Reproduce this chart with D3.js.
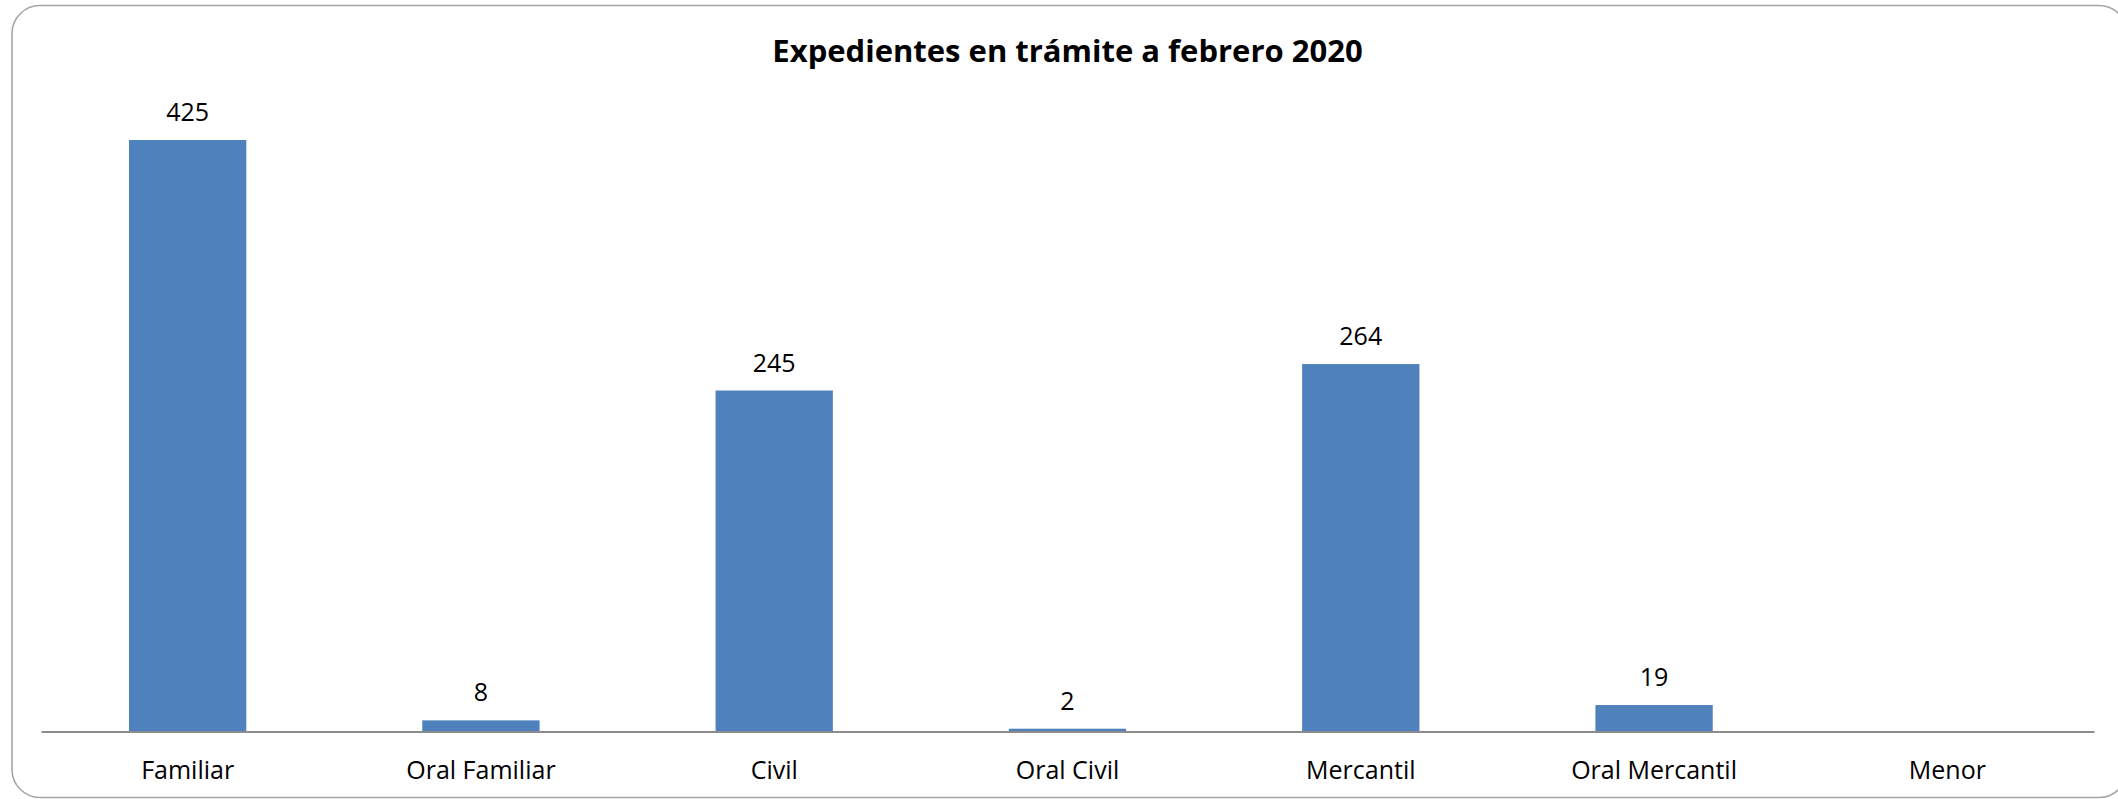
<!DOCTYPE html>
<html>
<head>
<meta charset="utf-8">
<script src="https://cdn.jsdelivr.net/npm/d3@7"></script>
<style>
  html, body { margin: 0; padding: 0; background: #ffffff; overflow: hidden; width: 2118px; height: 799px; }
  svg { display: block; position: absolute; left: 0; top: 0; }
</style>
</head>
<body>
<svg id="chart" width="2118" height="799"></svg>
<script>
const title = "Expedientes en trámite a febrero 2020";
const categories = ["Familiar", "Oral Familiar", "Civil", "Oral Civil", "Mercantil", "Oral Mercantil", "Menor"];
const values = [425, 8, 245, 2, 264, 19, null];
const yDomain = [0, 450];

const W = 2118, H = 799;
const svg = d3.select("#chart");
const font = "'Open Sans', 'Noto Sans', sans-serif";

// outer chart frame (its right side runs past the picture's edge)
const fx0 = 12, fy0 = 5.5, fx1 = 2127, fy1 = 797.5, r = 28;
const fp = [
  `M${fx1 - r},${fy0}`,
  `H${fx0 + r}`,
  `A${r},${r} 0 0 0 ${fx0},${fy0 + r}`,
  `V${fy1 - r}`,
  `A${r},${r} 0 0 0 ${fx0 + r},${fy1}`,
  `H${fx1 - r}`,
  `A${r},${r} 0 0 0 ${fx1},${fy1 - r}`,
  `V${fy0 + r}`,
  `A${r},${r} 0 0 0 ${fx1 - r},${fy0}`,
  "Z"
].join(" ");
svg.append("path")
  .attr("d", fp)
  .attr("fill", "#ffffff")
  .attr("stroke", "#a6a6a6")
  .attr("stroke-width", 1.6);

const plot = { left: 41, right: 2094, bottom: 731.5, top: 105.2 };

const x = d3.scaleBand()
  .domain(categories)
  .range([plot.left, plot.right])
  .paddingInner(0.6)
  .paddingOuter(0.3);

const y = d3.scaleLinear()
  .domain(yDomain)
  .range([plot.bottom, plot.top]);

const data = categories.map((c, i) => ({ cat: c, val: values[i] }));
const withVal = data.filter(d => d.val !== null && d.val !== undefined);

// bars
svg.append("g").selectAll("rect")
  .data(withVal)
  .join("rect")
  .attr("x", d => x(d.cat))
  .attr("y", d => y(d.val))
  .attr("width", x.bandwidth())
  .attr("height", d => y(0) - y(d.val))
  .attr("fill", "#4f81bd");

// category axis
const xAxis = d3.axisBottom(x).tickSize(0).tickPadding(0);
const gx = svg.append("g")
  .attr("transform", `translate(0,${plot.bottom})`)
  .call(xAxis);
gx.select(".domain")
  .attr("stroke", "#8c8c8c")
  .attr("stroke-width", 2);
gx.selectAll(".tick text")
  .attr("y", 47.5)
  .attr("dy", null)
  .attr("font-family", font)
  .attr("font-size", 25)
  .attr("fill", "#000000");

// value labels
svg.append("g").selectAll("text")
  .data(withVal)
  .join("text")
  .attr("x", d => x(d.cat) + x.bandwidth() / 2)
  .attr("y", d => y(d.val) - 19)
  .attr("text-anchor", "middle")
  .attr("font-family", font)
  .attr("font-size", 25)
  .attr("fill", "#000000")
  .text(d => d.val);

// title
svg.append("text")
  .attr("x", (plot.left + plot.right) / 2)
  .attr("y", 62)
  .attr("text-anchor", "middle")
  .attr("font-family", font)
  .attr("font-weight", "bold")
  .attr("font-size", 31)
  .attr("fill", "#000000")
  .text(title);
</script>
</body>
</html>
